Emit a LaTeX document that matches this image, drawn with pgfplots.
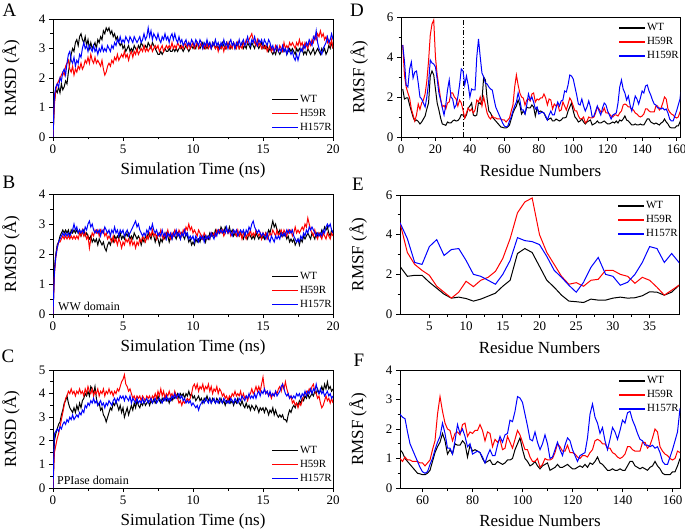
\documentclass[border=0pt]{standalone}
\usepackage{pgfplots}
\pgfplotsset{compat=1.18}
\usepackage{pgfplotstable}
\usepackage{fontspec}
\setmainfont{Liberation Serif}

\pgfplotstableread{
t wt h59r h157r
0.0 0 0 0
0.1 1.2 1.1 1.4
0.2 1.6 1.6 1.7
0.3 1.5 1.8 1.8
0.4 1.7 1.9 1.7
0.5 1.5 2.0 2.0
0.6 1.8 2.1 1.9
0.7 1.6 2.2 2.2
0.8 1.7 2.1 2.3
0.9 1.9 2.4 2.1
1.0 1.8 2.5 2.5
1.1 2.2 2.6 2.8
1.2 2.5 2.3 2.9
1.3 2.8 2.2 2.6
1.4 3.0 2.4 2.5
1.5 2.9 2.1 2.7
1.6 3.2 2.3 2.4
1.7 3.3 2.2 2.6
1.8 3.1 2.4 2.5
1.9 3.4 2.3 2.8
2.0 3.5 2.5 2.7
2.1 3.3 2.3 3.0
2.2 3.2 2.4 3.2
2.3 3.4 2.6 3.0
2.4 3.1 2.5 3.1
2.5 3.3 2.7 2.9
2.6 3.0 2.5 3.1
2.7 3.2 2.8 3.0
2.8 3.0 2.6 2.9
2.9 3.1 2.5 3.1
3.0 3.2 2.7 2.9
3.1 3.0 2.5 3.0
3.2 3.3 2.6 2.8
3.3 3.2 2.5 3.0
3.4 3.4 2.4 2.9
3.5 3.3 2.6 3.1
3.6 3.6 2.3 2.9
3.7 3.5 2.1 3.0
3.8 3.7 2.2 2.9
3.9 3.6 2.4 3.1
4.0 3.7 2.5 3.0
4.1 3.5 2.4 2.9
4.2 3.6 2.6 3.1
4.3 3.4 2.5 3.0
4.4 3.5 2.7 3.2
4.5 3.3 2.6 3.1
4.6 3.4 2.8 3.3
4.7 3.2 2.6 3.2
4.8 3.1 2.7 3.4
4.9 3.2 2.8 3.2
5.0 3.0 2.7 3.3
5.1 3.1 2.9 3.2
5.2 2.9 2.7 3.4
5.3 3.0 2.8 3.3
5.4 3.1 2.6 3.2
5.5 2.9 2.8 3.4
5.6 3.0 2.9 3.3
5.7 2.9 2.7 3.2
5.8 3.1 2.9 3.4
5.9 3.0 2.8 3.3
6.0 2.9 3.0 3.2
6.1 3.1 2.8 3.3
6.2 3.0 2.9 3.4
6.3 3.2 3.0 3.2
6.4 3.1 2.9 3.3
6.5 3.0 3.1 3.5
6.6 3.1 2.9 3.3
6.7 3.0 3.0 3.4
6.8 3.2 2.9 3.7
6.9 3.1 3.0 3.4
7.0 3.0 3.1 3.6
7.1 3.2 2.9 3.3
7.2 3.1 3.0 3.5
7.3 3.0 3.1 3.4
7.4 2.9 3.0 3.3
7.5 2.8 3.1 3.5
7.6 2.8 2.9 3.3
7.7 2.9 3.0 3.2
7.8 2.8 3.1 3.4
7.9 2.9 2.9 3.3
8.0 3.0 3.0 3.5
8.1 2.9 3.1 3.3
8.2 2.9 3.0 3.4
8.3 3.0 3.1 3.2
8.4 2.9 3.0 3.4
8.5 2.9 3.2 3.5
8.6 3.0 3.0 3.3
8.7 2.9 3.1 3.5
8.8 3.0 3.0 3.3
8.9 2.9 3.2 3.2
9.0 3.0 3.1 3.4
9.1 3.1 3.0 3.2
9.2 3.0 3.1 3.3
9.3 2.9 3.0 3.1
9.4 3.0 3.2 3.2
9.5 3.1 3.1 3.3
9.6 3.0 3.0 3.1
9.7 2.9 3.2 3.2
9.8 3.0 3.0 3.1
9.9 3.1 3.1 3.3
10.0 3.0 3.2 3.2
10.1 3.1 3.0 3.1
10.2 3.0 3.1 3.3
10.3 3.2 3.2 3.2
10.4 3.1 3.0 3.1
10.5 3.0 3.1 3.3
10.6 3.1 3.2 3.2
10.7 3.2 3.0 3.0
10.8 3.0 3.1 3.2
10.9 3.1 3.0 3.1
11.0 3.0 3.2 3.3
11.1 3.1 3.0 3.1
11.2 3.2 3.1 3.2
11.3 3.0 3.0 3.0
11.4 3.1 3.2 3.2
11.5 3.2 3.1 3.1
11.6 3.0 3.0 3.3
11.7 3.1 3.1 3.1
11.8 3.0 2.9 3.2
11.9 3.1 3.1 3.0
12.0 3.0 3.0 3.2
12.1 3.2 3.1 3.1
12.2 3.1 2.9 3.3
12.3 3.0 3.1 3.1
12.4 3.2 3.0 3.2
12.5 3.1 3.2 3.0
12.6 3.2 3.0 3.2
12.7 3.0 3.1 3.3
12.8 3.1 3.0 3.1
12.9 3.2 3.2 3.2
13.0 3.0 3.1 3.0
13.1 3.1 3.0 3.2
13.2 3.2 3.2 3.1
13.3 3.0 3.0 3.3
13.4 3.1 3.1 3.1
13.5 3.2 3.0 3.2
13.6 3.0 3.2 3.3
13.7 3.1 3.1 3.1
13.8 3.0 3.3 3.2
13.9 3.2 3.2 3.4
14.0 3.1 3.3 3.2
14.1 3.0 3.4 3.1
14.2 3.2 3.5 3.3
14.3 3.1 3.3 3.2
14.4 3.0 3.2 3.4
14.5 3.2 3.1 3.2
14.6 3.1 3.3 3.1
14.7 3.0 3.1 3.3
14.8 3.1 3.2 3.2
14.9 3.2 3.0 3.3
15.0 3.0 3.1 3.1
15.1 3.1 3.0 3.3
15.2 3.0 3.1 3.2
15.3 3.1 2.9 3.1
15.4 2.9 3.0 3.3
15.5 3.0 3.1 3.2
15.6 2.9 2.9 3.0
15.7 2.8 3.0 3.1
15.8 2.9 2.9 2.9
15.9 2.8 3.1 3.0
16.0 3.0 3.0 3.1
16.1 2.9 2.9 2.9
16.2 2.8 3.1 3.0
16.3 2.9 3.0 2.9
16.4 3.0 2.9 3.1
16.5 2.9 3.2 2.9
16.6 3.0 3.0 3.0
16.7 2.8 3.1 2.8
16.8 2.9 3.0 3.0
16.9 3.0 3.2 2.9
17.0 2.9 3.1 2.8
17.1 3.0 3.2 2.9
17.2 2.9 3.1 2.7
17.3 2.8 3.0 2.6
17.4 3.0 3.2 2.8
17.5 2.9 3.1 2.6
17.6 3.0 3.3 2.8
17.7 2.9 3.1 3.0
17.8 3.0 3.2 2.9
17.9 2.8 3.0 3.1
18.0 2.9 3.2 3.0
18.1 2.8 3.1 3.2
18.2 3.0 3.0 3.1
18.3 2.9 3.2 3.3
18.4 2.8 3.1 3.2
18.5 2.9 3.3 3.1
18.6 3.0 3.2 3.4
18.7 2.8 3.4 3.3
18.8 2.9 3.3 3.6
18.9 3.0 3.5 3.2
19.0 2.9 3.4 3.0
19.1 2.8 3.6 2.9
19.2 3.0 3.4 2.8
19.3 2.9 3.5 3.0
19.4 3.0 3.3 3.1
19.5 2.8 3.4 3.2
19.6 2.9 3.2 3.4
19.7 3.1 3.3 3.2
19.8 3.0 3.1 3.3
19.9 3.2 3.3 3.5
20.0 3.0 3.0 3.3
}\rmsdA

\pgfplotstableread{
t wt h59r h157r
0.0 0 0 0
0.1 1.5 1.3 1.4
0.2 2.0 1.9 1.9
0.3 2.3 2.2 2.2
0.4 2.4 2.4 2.4
0.5 2.6 2.4 2.5
0.6 2.7 2.5 2.6
0.7 2.8 2.6 2.7
0.8 2.7 2.5 2.6
0.9 2.8 2.6 2.7
1.0 2.7 2.5 2.6
1.1 2.8 2.6 2.7
1.2 2.6 2.5 2.6
1.3 2.8 2.6 2.7
1.4 2.7 2.5 2.8
1.5 2.8 2.6 3.0
1.6 2.7 2.5 2.8
1.7 2.8 2.6 2.9
1.8 2.7 2.5 2.7
1.9 2.8 2.7 2.8
2.0 2.6 2.6 2.7
2.1 2.7 2.8 2.8
2.2 2.8 2.6 2.7
2.3 2.6 2.7 2.9
2.4 2.7 2.5 2.8
2.5 2.6 2.6 3.0
2.6 2.5 2.2 3.1
2.7 2.6 2.5 2.9
2.8 2.4 2.7 3.0
2.9 2.5 2.6 2.8
3.0 2.4 2.8 2.7
3.1 2.5 2.7 2.8
3.2 2.3 2.8 2.7
3.3 2.5 2.6 2.8
3.4 2.4 2.8 2.6
3.5 2.3 2.7 2.8
3.6 2.4 2.8 2.7
3.7 2.2 2.6 2.9
3.8 2.1 2.7 2.8
3.9 2.3 2.5 2.7
4.0 2.4 2.6 2.8
4.1 2.3 2.5 2.6
4.2 2.5 2.4 2.8
4.3 2.4 2.6 2.7
4.4 2.6 2.4 2.9
4.5 2.5 2.5 2.7
4.6 2.6 2.3 2.8
4.7 2.5 2.5 2.6
4.8 2.7 2.4 2.8
4.9 2.5 2.2 2.7
5.0 2.6 2.4 2.8
5.1 2.5 2.3 2.6
5.2 2.7 2.5 2.7
5.3 2.6 2.4 2.8
5.4 2.7 2.5 2.6
5.5 2.5 2.3 2.7
5.6 2.6 2.5 2.8
5.7 2.5 2.3 2.9
5.8 2.7 2.4 3.0
5.9 2.6 2.2 3.1
6.0 2.5 2.4 2.9
6.1 2.6 2.3 3.0
6.2 2.5 2.5 2.8
6.3 2.3 2.4 2.7
6.4 2.5 2.6 2.6
6.5 2.4 2.5 2.7
6.6 2.6 2.4 2.6
6.7 2.5 2.6 2.8
6.8 2.7 2.5 2.7
6.9 2.6 2.7 2.9
7.0 2.5 2.6 2.8
7.1 2.7 2.8 3.0
7.2 2.6 2.6 2.8
7.3 2.4 2.7 2.7
7.4 2.6 2.5 2.8
7.5 2.5 2.7 2.6
7.6 2.3 2.6 2.7
7.7 2.5 2.8 2.6
7.8 2.4 2.6 2.8
7.9 2.6 2.5 2.6
8.0 2.5 2.7 2.7
8.1 2.7 2.6 2.5
8.2 2.6 2.8 2.7
8.3 2.4 2.6 2.6
8.4 2.6 2.5 2.7
8.5 2.5 2.7 2.5
8.6 2.7 2.6 2.7
8.7 2.6 2.8 2.6
8.8 2.5 2.7 2.8
8.9 2.7 2.6 2.6
9.0 2.6 2.8 2.7
9.1 2.5 2.7 2.5
9.2 2.7 2.6 2.7
9.3 2.6 2.8 2.6
9.4 2.5 2.7 2.8
9.5 2.7 2.9 2.6
9.6 2.6 2.8 2.7
9.7 2.4 3.0 2.5
9.8 2.5 2.8 2.6
9.9 2.3 2.9 2.5
10.0 2.4 2.7 2.6
10.1 2.3 2.8 2.4
10.2 2.5 2.7 2.6
10.3 2.4 2.6 2.5
10.4 2.5 2.8 2.4
10.5 2.4 2.7 2.6
10.6 2.6 2.6 2.5
10.7 2.5 2.5 2.6
10.8 2.6 2.7 2.4
10.9 2.4 2.6 2.6
11.0 2.6 2.5 2.5
11.1 2.5 2.6 2.6
11.2 2.7 2.5 2.5
11.3 2.6 2.7 2.7
11.4 2.7 2.6 2.6
11.5 2.6 2.7 2.5
11.6 2.8 2.6 2.7
11.7 2.7 2.8 2.6
11.8 2.8 2.7 2.8
11.9 2.7 2.8 2.7
12.0 2.9 2.7 2.8
12.1 2.8 2.8 2.7
12.2 2.7 2.6 2.8
12.3 2.9 2.7 2.7
12.4 2.8 2.8 2.9
12.5 2.7 2.7 2.7
12.6 2.9 2.8 2.8
12.7 2.7 2.6 2.7
12.8 2.8 2.7 2.6
12.9 2.6 2.8 2.8
13.0 2.7 2.7 2.7
13.1 2.6 2.6 2.8
13.2 2.7 2.8 2.6
13.3 2.6 2.6 2.7
13.4 2.7 2.7 2.8
13.5 2.6 2.5 2.7
13.6 2.5 2.7 2.8
13.7 2.7 2.6 2.6
13.8 2.6 2.5 2.8
13.9 2.5 2.7 2.7
14.0 2.7 2.6 2.9
14.1 2.6 2.8 2.8
14.2 2.5 2.6 3.0
14.3 2.6 2.7 3.1
14.4 2.5 2.6 2.9
14.5 2.7 2.8 2.8
14.6 2.6 2.7 2.7
14.7 2.5 2.6 2.8
14.8 2.6 2.7 2.7
14.9 2.5 2.5 2.6
15.0 2.6 2.7 2.7
15.1 2.5 2.6 2.6
15.2 2.7 2.7 2.5
15.3 2.6 2.5 2.7
15.4 2.8 2.6 2.5
15.5 2.7 2.7 2.4
15.6 2.9 2.6 2.6
15.7 3.1 2.8 2.5
15.8 2.9 2.7 2.4
15.9 3.0 2.6 2.6
16.0 2.8 2.8 2.5
16.1 2.7 2.6 2.6
16.2 2.8 2.7 2.5
16.3 2.6 2.8 2.7
16.4 2.7 2.6 2.6
16.5 2.6 2.8 2.7
16.6 2.7 2.7 2.6
16.7 2.5 2.6 2.8
16.8 2.6 2.8 2.7
16.9 2.4 2.7 2.8
17.0 2.5 2.8 2.7
17.1 2.4 2.6 2.8
17.2 2.5 2.7 2.6
17.3 2.3 2.9 2.5
17.4 2.4 2.7 2.4
17.5 2.5 2.8 2.5
17.6 2.3 2.7 2.4
17.7 2.5 2.8 2.6
17.8 2.4 2.9 2.5
17.9 2.6 2.8 2.7
18.0 2.5 3.0 2.6
18.1 2.6 2.9 2.8
18.2 2.7 3.2 2.7
18.3 2.6 3.0 2.9
18.4 2.5 2.8 2.8
18.5 2.7 2.7 2.9
18.6 2.6 2.6 2.8
18.7 2.5 2.8 2.7
18.8 2.7 2.6 2.6
18.9 2.6 2.5 2.7
19.0 2.7 2.7 2.6
19.1 2.6 2.6 2.7
19.2 2.8 2.5 2.6
19.3 2.7 2.7 2.8
19.4 2.9 2.6 2.7
19.5 2.8 2.5 2.9
19.6 2.9 2.7 3.0
19.7 2.7 2.6 2.9
19.8 2.6 2.5 3.0
19.9 2.8 2.7 2.8
20.0 2.7 2.6 2.7
}\rmsdB

\pgfplotstableread{
t wt h59r h157r
0.0 0 0 0
0.1 2.0 1.5 2.3
0.2 2.3 1.8 2.4
0.3 2.5 2.1 2.5
0.4 2.7 2.3 2.4
0.5 2.8 2.6 2.6
0.6 3.1 2.9 2.5
0.7 3.3 3.2 2.7
0.8 3.6 3.5 2.8
0.9 3.7 3.8 2.7
1.0 3.9 3.9 2.9
1.1 3.6 4.1 2.8
1.2 3.4 4.0 3.0
1.3 3.3 4.2 2.9
1.4 3.2 4.0 3.1
1.5 3.4 4.1 2.9
1.6 3.2 3.9 3.0
1.7 3.5 4.1 3.1
1.8 3.3 4.0 3.0
1.9 3.6 4.2 3.2
2.0 3.4 4.0 3.1
2.1 3.7 4.1 3.3
2.2 3.8 3.9 3.2
2.3 4.0 4.2 3.5
2.4 3.9 4.0 3.4
2.5 4.1 4.3 3.6
2.6 3.9 4.1 3.5
2.7 4.3 4.0 3.7
2.8 4.2 4.2 3.6
2.9 4.0 3.9 3.8
3.0 4.3 4.1 3.6
3.1 3.8 4.0 3.7
3.2 3.5 4.2 3.5
3.3 3.6 3.9 3.6
3.4 3.3 4.1 3.7
3.5 3.4 4.0 3.5
3.6 3.1 4.2 3.6
3.7 3.0 3.9 3.4
3.8 2.8 4.1 3.6
3.9 3.0 4.0 3.5
4.0 3.2 4.2 3.7
4.1 3.4 4.0 3.6
4.2 3.3 4.1 3.5
4.3 3.6 3.9 3.7
4.4 3.5 4.1 3.8
4.5 3.7 4.0 3.6
4.6 3.5 4.2 3.8
4.7 3.3 4.1 3.7
4.8 3.5 4.3 3.9
4.9 3.2 4.5 3.8
5.0 3.4 4.6 3.9
5.1 3.0 4.8 3.7
5.2 3.2 4.4 3.9
5.3 3.4 4.3 3.8
5.4 3.1 4.1 3.7
5.5 3.3 4.2 3.9
5.6 3.5 4.0 3.6
5.7 3.3 3.8 3.8
5.8 3.6 3.9 3.7
5.9 3.4 3.7 3.6
6.0 3.7 3.9 3.8
6.1 3.5 3.8 3.6
6.2 3.4 3.9 3.7
6.3 3.6 3.7 3.6
6.4 3.5 3.9 3.8
6.5 3.7 3.8 3.6
6.6 3.5 3.7 3.7
6.7 3.6 3.9 3.8
6.8 3.7 3.8 3.6
6.9 3.5 3.9 3.7
7.0 3.7 3.7 3.8
7.1 3.6 3.9 3.6
7.2 3.8 3.8 3.7
7.3 3.6 4.0 3.8
7.4 3.7 3.8 3.6
7.5 3.9 4.1 3.7
7.6 3.7 3.9 3.8
7.7 3.6 4.2 3.7
7.8 3.8 3.9 3.6
7.9 3.7 4.1 3.8
8.0 3.9 3.8 3.7
8.1 3.7 4.0 3.9
8.2 3.8 3.9 3.7
8.3 3.6 4.1 3.8
8.4 3.8 3.9 3.7
8.5 3.7 4.0 3.9
8.6 3.9 3.8 3.8
8.7 3.8 4.1 4.0
8.8 3.9 3.9 3.8
8.9 4.0 3.8 3.9
9.0 3.8 3.6 4.0
9.1 4.0 3.7 3.8
9.2 3.9 3.5 3.9
9.3 4.0 3.7 3.7
9.4 3.8 3.6 3.8
9.5 4.0 3.7 3.6
9.6 3.9 3.8 3.7
9.7 4.1 3.7 3.6
9.8 3.9 3.8 3.7
9.9 4.0 4.0 3.5
10.0 3.8 4.3 3.6
10.1 3.9 4.4 3.5
10.2 3.7 4.2 3.4
10.3 3.8 4.4 3.5
10.4 3.9 4.1 3.3
10.5 3.7 4.3 3.5
10.6 3.8 4.2 3.6
10.7 3.6 4.4 3.7
10.8 3.8 4.1 3.6
10.9 3.7 4.3 3.8
11.0 3.9 4.2 3.7
11.1 3.7 4.4 3.6
11.2 3.8 4.1 3.8
11.3 3.6 4.3 3.6
11.4 3.8 4.0 3.7
11.5 3.7 4.2 3.8
11.6 3.6 4.1 3.6
11.7 3.8 4.3 3.7
11.8 3.7 4.0 3.6
11.9 3.6 4.2 3.8
12.0 3.8 4.1 3.7
12.1 3.6 3.9 3.6
12.2 3.7 4.0 3.8
12.3 3.5 3.8 3.7
12.4 3.7 3.9 3.6
12.5 3.6 3.7 3.7
12.6 3.8 3.9 3.6
12.7 3.6 3.8 3.8
12.8 3.7 4.0 3.7
12.9 3.5 3.9 3.6
13.0 3.7 4.1 3.8
13.1 3.6 3.9 3.7
13.2 3.8 4.0 3.6
13.3 3.6 3.9 3.8
13.4 3.5 4.1 3.7
13.5 3.7 3.8 3.9
13.6 3.5 4.0 3.8
13.7 3.4 3.8 3.7
13.8 3.6 3.9 3.9
13.9 3.4 3.7 3.8
14.0 3.5 3.9 4.0
14.1 3.3 4.0 3.8
14.2 3.5 4.2 3.9
14.3 3.4 4.0 3.8
14.4 3.3 4.1 4.0
14.5 3.5 4.3 3.8
14.6 3.4 4.1 4.0
14.7 3.2 4.3 4.1
14.8 3.4 4.1 3.9
14.9 3.3 4.4 4.1
15.0 3.4 4.7 4.0
15.1 3.2 4.2 4.2
15.2 3.4 4.0 4.0
15.3 3.3 4.1 4.1
15.4 3.1 3.9 3.9
15.5 3.3 4.0 4.1
15.6 3.2 3.8 3.9
15.7 3.4 4.0 4.0
15.8 3.1 3.9 3.9
15.9 3.3 4.1 4.1
16.0 3.1 4.0 3.9
16.1 3.0 4.2 4.0
16.2 3.1 4.3 4.1
16.3 3.0 4.1 4.3
16.4 3.1 4.4 4.4
16.5 2.9 4.2 4.2
16.6 2.9 4.5 4.0
16.7 2.8 4.2 3.9
16.8 3.1 4.0 4.0
16.9 3.3 3.8 3.8
17.0 3.2 3.9 3.9
17.1 3.4 3.6 3.8
17.2 3.5 3.7 3.9
17.3 3.4 3.5 3.8
17.4 3.6 3.6 4.0
17.5 3.5 3.4 3.9
17.6 3.7 3.6 4.0
17.7 3.6 3.5 3.8
17.8 3.8 3.7 4.0
17.9 3.7 3.9 3.9
18.0 3.9 4.0 4.1
18.1 3.8 4.1 3.9
18.2 4.0 4.0 4.1
18.3 3.8 4.2 4.0
18.4 3.9 4.1 4.2
18.5 4.0 4.3 4.0
18.6 3.9 4.4 4.2
18.7 4.1 4.1 4.1
18.8 4.0 4.0 4.4
18.9 4.2 3.8 4.1
19.0 4.0 3.9 4.0
19.1 4.1 3.6 4.2
19.2 4.3 3.4 4.0
19.3 4.1 3.5 4.1
19.4 4.4 3.7 3.9
19.5 4.2 3.9 4.0
19.6 4.5 3.7 4.1
19.7 4.2 3.8 3.9
19.8 4.3 3.6 4.0
19.9 4.1 3.8 3.8
20.0 4.2 3.6 3.9
}\rmsdC

\pgfplotstableread{
res wt h59r h157r
1 2.4 4.6 4.6
2 1.9 3.1 3.8
3 1.95 2.5 2.6
4 1.95 2.2 2.5
5 1.6 1.95 3.4
6 1.3 1.4 3.75
7 1.0 1.1 2.95
8 0.8 0.8 3.25
9 0.85 1.1 3.3
10 0.78 1.65 2.7
11 0.65 1.38 2.0
12 0.75 1.7 1.9
13 0.9 1.85 1.7
14 1.05 2.15 1.5
15 1.4 2.8 2.0
16 1.7 3.8 2.7
17 3.05 5.1 3.85
18 3.3 5.65 3.7
19 3.1 5.85 3.65
20 2.4 4.0 3.5
21 1.7 3.1 2.9
22 1.35 2.5 2.2
23 0.95 1.9 1.85
24 0.65 1.5 1.45
25 0.62 1.58 1.1
26 0.58 1.4 1.6
27 0.75 1.7 2.35
28 0.7 1.75 2.85
29 0.7 2.2 2.0
30 0.8 2.2 1.9
31 0.85 2.0 1.45
32 0.8 1.9 1.6
33 0.82 1.55 2.0
34 0.92 1.85 2.6
35 1.12 1.7 3.4
36 1.1 1.35 3.3
37 0.95 0.95 2.6
38 1.1 1.2 3.05
39 1.45 1.45 2.6
40 1.55 1.3 2.0
41 1.7 1.4 2.4
42 1.1 1.2 2.35
43 1.05 1.35 2.35
44 1.1 1.85 4.0
45 1.75 1.75 4.9
46 1.65 2.0 4.0
47 1.8 1.55 3.2
48 3.0 2.0 3.0
49 2.85 1.6 2.7
50 1.9 1.2 2.65
51 1.3 1.0 2.5
52 1.2 0.9 2.4
53 1.0 1.05 2.35
54 0.9 0.95 1.9
55 0.8 0.95 1.5
56 0.7 0.9 1.3
57 0.6 0.9 1.1
58 0.5 0.9 0.9
59 0.48 0.85 0.7
60 0.45 0.85 0.55
61 0.45 0.75 0.5
62 0.5 0.85 0.55
63 0.6 0.95 0.8
64 0.9 1.3 1.0
65 1.2 1.6 1.3
66 1.4 2.5 1.55
67 1.55 3.1 1.75
68 1.85 2.6 2.2
69 1.6 2.2 1.85
70 1.15 2.0 1.35
71 1.3 1.95 1.35
72 1.15 1.6 1.15
73 1.5 1.85 1.6
74 1.45 1.9 2.15
75 1.45 1.8 1.85
76 1.6 2.15 2.0
77 1.5 2.2 1.75
78 1.05 1.75 1.4
79 1.45 1.9 1.5
80 1.25 1.85 1.15
81 1.3 1.95 1.2
82 1.25 1.95 1.25
83 1.2 2.15 1.2
84 1.0 1.95 1.05
85 0.85 1.6 0.85
86 0.9 1.9 1.1
87 0.95 1.85 1.3
88 0.8 1.4 1.1
89 0.8 1.65 1.1
90 0.9 1.55 1.45
91 0.85 1.65 1.75
92 0.8 1.3 1.55
93 0.85 1.35 1.8
94 0.95 1.75 1.85
95 0.95 1.55 2.3
96 1.0 1.35 2.25
97 1.3 1.65 2.6
98 1.5 1.95 3.1
99 1.7 1.8 3.05
100 1.3 1.55 2.9
101 1.0 1.3 2.5
102 0.9 1.3 2.1
103 0.75 1.05 1.65
104 0.8 0.9 1.6
105 0.9 0.9 1.9
106 0.75 1.0 1.55
107 0.65 0.7 1.3
108 0.75 0.8 1.5
109 0.8 1.0 1.8
110 0.85 0.95 1.5
111 0.6 0.95 1.0
112 0.65 1.0 1.05
113 0.7 1.2 1.3
114 0.8 1.5 1.55
115 0.7 1.4 1.3
116 0.7 1.25 1.1
117 0.75 1.25 1.45
118 0.8 1.45 1.7
119 0.72 1.2 1.6
120 0.65 1.2 1.3
121 0.65 1.15 1.1
122 0.7 1.05 0.9
123 0.75 1.0 1.1
124 0.7 1.1 1.15
125 0.8 1.1 1.2
126 0.7 1.05 1.7
127 0.85 1.2 2.5
128 0.8 1.3 2.85
129 0.9 1.6 2.4
130 1.05 1.65 2.2
131 0.85 1.6 1.85
132 0.8 1.5 2.05
133 0.7 1.5 1.6
134 0.6 1.35 1.3
135 0.6 1.35 1.65
136 0.65 1.2 2.05
137 0.6 1.15 1.9
138 0.6 1.05 1.65
139 0.65 1.0 1.95
140 0.6 1.05 2.3
141 0.6 1.15 2.2
142 0.75 1.4 2.55
143 0.9 1.4 2.6
144 0.9 1.3 2.3
145 0.75 1.25 2.1
146 0.7 1.25 1.85
147 0.65 1.25 1.65
148 0.7 1.55 1.6
149 0.65 1.55 1.45
150 0.6 1.35 1.45
151 0.7 1.45 1.4
152 0.75 1.7 1.45
153 0.9 2.0 1.35
154 0.75 1.9 1.4
155 0.65 1.4 1.2
156 0.5 1.25 0.9
157 0.45 1.15 0.8
158 0.45 1.1 0.8
159 0.45 1.0 1.05
160 0.55 0.95 1.3
161 0.55 1.0 1.6
162 0.75 1.25 1.9
163 1.0 1.2 2.7
}\rmsf

\pgfplotsset{
  panel/.style={
    scale only axis, width=280pt, height=118pt,
    tick pos=left, tick align=outside,
    major tick length=4pt, minor tick length=2.5pt,
    axis line style={line width=0.8pt},
    tick style={black, line width=0.7pt},
    minor tick num=1,
    tick label style={font=\fontsize{13}{15}\selectfont},
    /pgf/number format/assume math mode=true,
    label style={font=\fontsize{17}{19}\selectfont},
    xlabel style={at={(axis description cs:0.5,-0.28)}, anchor=center},
    ylabel style={at={(axis description cs:-0.15,0.5)}, anchor=center},
    legend cell align=left,
    legend style={draw=none, fill=none, inner sep=0pt, row sep=2pt,
      font=\fontsize{11}{12}\selectfont,
      nodes={inner sep=1pt, text height=8pt, text depth=2pt}},
    legend image code/.code={\draw[##1, line width=1.4pt] (0pt,0pt) -- (26pt,0pt);},
    every axis plot/.append style={line width=1pt, mark=none},
  },
  rmsd/.style={panel, xmin=0, xmax=20, xtick={0,5,10,15,20},
    xlabel={Simulation Time (ns)}, ylabel={RMSD (Å)},
    legend style={at={(1,0.03)}, anchor=south east}},
  rmsfp/.style={panel, xlabel={Residue Numbers}, ylabel={RMSF (Å)},
    legend style={at={(1,0.96)}, anchor=north east}},
}

\begin{document}
\begin{tikzpicture}
\useasboundingbox (0pt,0pt) rectangle (685pt,-529pt);

% A
\begin{axis}[rmsd, at={(53pt,-137pt)}, anchor=south west, height=118pt,
  ymin=0, ymax=4, ytick={0,1,2,3,4}]
\addplot[black] table[x=t,y=wt]{\rmsdA};
\addplot[red] table[x=t,y=h59r]{\rmsdA};
\addplot[blue] table[x=t,y=h157r]{\rmsdA};
\legend{WT,H59R,H157R}
\end{axis}

% B
\begin{axis}[rmsd, at={(53pt,-314pt)}, anchor=south west, height=120pt,
  ymin=0, ymax=4, ytick={0,1,2,3,4}]
\addplot[black] table[x=t,y=wt]{\rmsdB};
\addplot[red] table[x=t,y=h59r]{\rmsdB};
\addplot[blue] table[x=t,y=h157r]{\rmsdB};
\legend{WT,H59R,H157R}
\node[anchor=base west, inner sep=0pt, font=\fontsize{12}{14}\selectfont] at (rel axis cs:0.018,0.03) {WW domain};
\end{axis}

% C
\begin{axis}[rmsd, at={(53pt,-488pt)}, anchor=south west, height=118pt,
  ymin=0, ymax=5, ytick={0,1,2,3,4,5}]
\addplot[black] table[x=t,y=wt]{\rmsdC};
\addplot[red] table[x=t,y=h59r]{\rmsdC};
\addplot[blue] table[x=t,y=h157r]{\rmsdC};
\legend{WT,H59R,H157R}
\node[anchor=base west, inner sep=0pt, font=\fontsize{12}{14}\selectfont] at (rel axis cs:0.014,0.03) {PPIase domain};
\end{axis}

% D
\begin{axis}[rmsfp, at={(401pt,-137pt)}, anchor=south west, width=279pt, height=120pt,
  xmin=0, xmax=162, xtick={0,20,...,160}, ymin=0, ymax=6, ytick={0,2,4,6}]
\addplot[black, line width=0.9pt, dash pattern=on 5pt off 2pt on 1.2pt off 2pt, forget plot] coordinates {(36,0) (36,6)};
\addplot[black] table[x=res,y=wt]{\rmsf};
\addplot[red] table[x=res,y=h59r]{\rmsf};
\addplot[blue] table[x=res,y=h157r]{\rmsf};
\legend{WT,H59R,H159R}
\end{axis}

% E
\begin{axis}[rmsfp, at={(400pt,-314pt)}, anchor=south west, width=279pt, height=119pt,
  xmin=1, xmax=39, xtick={5,10,...,35}, ymin=0, ymax=6, ytick={0,2,4,6}]
\addplot[black] table[x=res,y=wt]{\rmsf};
\addplot[red] table[x=res,y=h59r]{\rmsf};
\addplot[blue] table[x=res,y=h157r]{\rmsf};
\legend{WT,H59R,H157R}
\end{axis}

% F
\begin{axis}[rmsfp, at={(400pt,-488pt)}, anchor=south west, width=280pt, height=118pt,
  xmin=51, xmax=163, xtick={60,80,...,160}, ymin=0, ymax=4, ytick={0,1,2,3,4}]
\addplot[black] table[x=res,y=wt]{\rmsf};
\addplot[red] table[x=res,y=h59r]{\rmsf};
\addplot[blue] table[x=res,y=h157r]{\rmsf};
\legend{WT,H59R,H157R}
\end{axis}

\node[font=\fontsize{19}{21}\selectfont] at (9.5pt,-10.5pt) {A};
\node[font=\fontsize{19}{21}\selectfont] at (9pt,-182pt) {B};
\node[font=\fontsize{19}{21}\selectfont] at (8pt,-356pt) {C};
\node[font=\fontsize{19}{21}\selectfont] at (357pt,-10.5pt) {D};
\node[font=\fontsize{19}{21}\selectfont] at (358pt,-184pt) {E};
\node[font=\fontsize{19}{21}\selectfont] at (359pt,-360pt) {F};
\end{tikzpicture}
\end{document}
